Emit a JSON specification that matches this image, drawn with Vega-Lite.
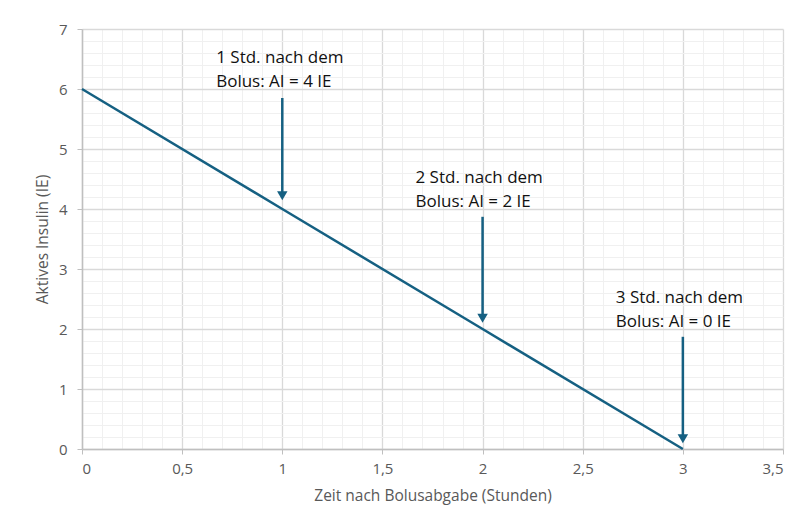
{
  "$schema": "https://vega.github.io/schema/vega-lite/v6.json",
  "width": 701,
  "height": 420,
  "autosize": {"type": "none"},
  "padding": {"left": 82, "top": 29, "right": 20, "bottom": 78},
  "background": "white",
  "config": {
    "view": {"stroke": null},
    "font": "Open Sans",
    "axis": {
      "labelFont": "Open Sans",
      "labelFontSize": 15,
      "labelColor": "#595959",
      "titleFont": "Open Sans",
      "titleFontSize": 15.5,
      "titleFontWeight": "normal",
      "titleColor": "#595959",
      "domainColor": "#bfbfbf",
      "domainWidth": 1.5,
      "tickSize": 5,
      "tickCount": 200,
      "labelOverlap": false
    }
  },
  "datasets": {
    "curve": [
      {"t": 0, "ai": 6},
      {"t": 1, "ai": 4},
      {"t": 2, "ai": 2},
      {"t": 3, "ai": 0}
    ],
    "arrows": [
      {"t": 1, "from": 5.85, "to": 4.2, "head": 4.22},
      {"t": 2, "from": 3.87, "to": 2.16, "head": 2.18},
      {"t": 3, "from": 1.87, "to": 0.15, "head": 0.17}
    ],
    "notes": [
      {"t": 0.67, "y": 6.52, "label": "1 Std. nach dem"},
      {"t": 0.67, "y": 6.12, "label": "Bolus: AI = 4 IE"},
      {"t": 1.665, "y": 4.52, "label": "2 Std. nach dem"},
      {"t": 1.665, "y": 4.12, "label": "Bolus: AI = 2 IE"},
      {"t": 2.665, "y": 2.52, "label": "3 Std. nach dem"},
      {"t": 2.665, "y": 2.12, "label": "Bolus: AI = 0 IE"}
    ]
  },
  "layer": [
    {
      "data": {"name": "curve"},
      "mark": {"type": "line", "color": "#156082", "strokeWidth": 2.5},
      "encoding": {
        "x": {
          "field": "t", "type": "quantitative",
          "scale": {"domain": [0, 3.5], "nice": false, "zero": false},
          "axis": {
            "title": "Zeit nach Bolusabgabe (Stunden)",
            "tickCount": 200,
            "values": [0,0.1,0.2,0.3,0.4,0.5,0.6,0.7,0.8,0.9,1,1.1,1.2,1.3,1.4,1.5,1.6,1.7,1.8,1.9,2,2.1,2.2,2.3,2.4,2.5,2.6,2.7,2.8,2.9,3,3.1,3.2,3.3,3.4,3.5],
            "labelExpr": "datum.value % 0.5 == 0 ? replace(format(datum.value, '~g'), '.', ',') : ''",
            "grid": true,
            "gridColor": {"condition": {"test": "datum.value % 0.5 == 0", "value": "#d9d9d9"}, "value": "#f0f0f0"},
            "gridWidth": {"condition": {"test": "datum.value % 0.5 == 0", "value": 1.3}, "value": 1},
            "tickColor": {"condition": {"test": "datum.value % 0.5 == 0", "value": "#bfbfbf"}, "value": "transparent"},
            "labelPadding": 7,
            "titlePadding": 12
          }
        },
        "y": {
          "field": "ai", "type": "quantitative",
          "scale": {"domain": [0, 7], "nice": false},
          "axis": {
            "title": "Aktives Insulin (IE)",
            "tickCount": 200,
            "values": [0,0.2,0.4,0.6,0.8,1,1.2,1.4,1.6,1.8,2,2.2,2.4,2.6,2.8,3,3.2,3.4,3.6,3.8,4,4.2,4.4,4.6,4.8,5,5.2,5.4,5.6,5.8,6,6.2,6.4,6.6,6.8,7],
            "labelExpr": "datum.value % 1 == 0 ? format(datum.value, 'd') : ''",
            "grid": true,
            "gridColor": {"condition": {"test": "datum.value % 1 == 0", "value": "#d9d9d9"}, "value": "#f0f0f0"},
            "gridWidth": {"condition": {"test": "datum.value % 1 == 0", "value": 1.3}, "value": 1},
            "tickColor": {"condition": {"test": "datum.value % 1 == 0", "value": "#bfbfbf"}, "value": "transparent"},
            "labelPadding": 10,
            "titlePadding": 8
          }
        }
      }
    },
    {
      "data": {"name": "arrows"},
      "mark": {"type": "rule", "color": "#156082", "strokeWidth": 2.5},
      "encoding": {
        "x": {"field": "t", "type": "quantitative"},
        "y": {"field": "from", "type": "quantitative"},
        "y2": {"field": "to"}
      }
    },
    {
      "data": {"name": "arrows"},
      "mark": {"type": "point", "shape": "triangle-down", "filled": true, "opacity": 1, "color": "#156082", "size": 110},
      "encoding": {
        "x": {"field": "t", "type": "quantitative"},
        "y": {"field": "head", "type": "quantitative"}
      }
    },
    {
      "data": {"name": "notes"},
      "mark": {"type": "text", "align": "left", "baseline": "middle", "fontSize": 17, "color": "#111111", "font": "Open Sans"},
      "encoding": {
        "x": {"field": "t", "type": "quantitative"},
        "y": {"field": "y", "type": "quantitative"},
        "text": {"field": "label"}
      }
    }
  ]
}
